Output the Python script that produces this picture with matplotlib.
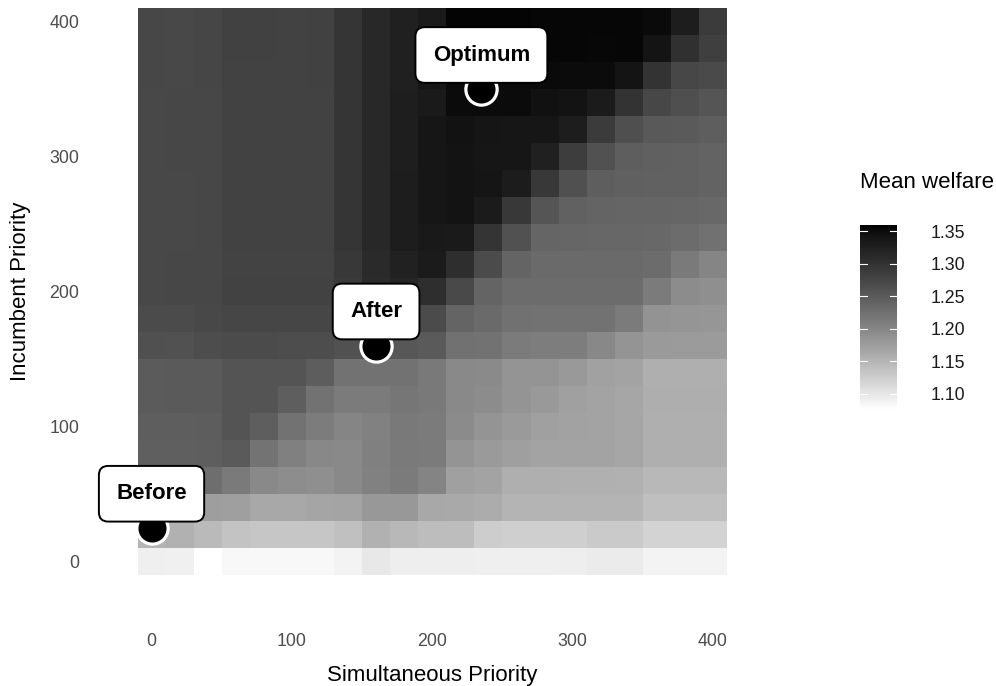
import numpy as np
import matplotlib
matplotlib.use("Agg")
import matplotlib.pyplot as plt
from matplotlib.colors import ListedColormap, Normalize

plt.rcParams['font.family'] = ['Liberation Sans', 'DejaVu Sans']

# grid of priorities
simultaneous = [0, 20, 40, 60, 80, 100, 120, 140, 160, 180, 200,
                220, 240, 260, 280, 300, 320, 340, 360, 380, 400]
incumbent = [0, 20, 40, 60, 80, 100, 120, 140, 160, 180, 200,
             220, 240, 260, 280, 300, 320, 340, 360, 380, 400]

# mean welfare, one row per incumbent priority (bottom row first)
welfare = [
    [1.091, 1.090, 1.075, 1.082, 1.082, 1.082, 1.082, 1.088, 1.098, 1.092, 1.092, 1.092, 1.091, 1.091, 1.091, 1.092, 1.096, 1.096, 1.088, 1.088, 1.088],
    [1.151, 1.155, 1.145, 1.136, 1.132, 1.132, 1.132, 1.139, 1.155, 1.147, 1.142, 1.142, 1.126, 1.123, 1.123, 1.123, 1.129, 1.129, 1.119, 1.119, 1.119],
    [1.194, 1.185, 1.175, 1.173, 1.164, 1.164, 1.167, 1.168, 1.181, 1.181, 1.163, 1.162, 1.160, 1.151, 1.151, 1.151, 1.151, 1.151, 1.140, 1.140, 1.140],
    [1.244, 1.237, 1.228, 1.214, 1.197, 1.192, 1.191, 1.197, 1.206, 1.213, 1.203, 1.172, 1.169, 1.157, 1.157, 1.156, 1.156, 1.155, 1.147, 1.147, 1.147],
    [1.245, 1.245, 1.246, 1.250, 1.221, 1.207, 1.198, 1.197, 1.207, 1.214, 1.212, 1.186, 1.179, 1.174, 1.169, 1.169, 1.169, 1.166, 1.157, 1.157, 1.157],
    [1.246, 1.246, 1.247, 1.258, 1.246, 1.224, 1.211, 1.201, 1.206, 1.215, 1.213, 1.195, 1.186, 1.179, 1.172, 1.170, 1.169, 1.166, 1.157, 1.157, 1.157],
    [1.249, 1.250, 1.251, 1.258, 1.258, 1.246, 1.223, 1.213, 1.213, 1.218, 1.215, 1.197, 1.194, 1.186, 1.180, 1.172, 1.169, 1.166, 1.158, 1.158, 1.158],
    [1.249, 1.250, 1.251, 1.258, 1.258, 1.258, 1.247, 1.224, 1.222, 1.223, 1.215, 1.197, 1.196, 1.186, 1.186, 1.180, 1.171, 1.169, 1.157, 1.157, 1.157],
    [1.263, 1.262, 1.266, 1.269, 1.269, 1.267, 1.266, 1.261, 1.257, 1.255, 1.250, 1.225, 1.223, 1.212, 1.210, 1.210, 1.198, 1.186, 1.179, 1.178, 1.178],
    [1.269, 1.269, 1.273, 1.275, 1.275, 1.275, 1.275, 1.275, 1.280, 1.280, 1.269, 1.239, 1.233, 1.225, 1.224, 1.224, 1.224, 1.212, 1.187, 1.185, 1.183],
    [1.273, 1.274, 1.274, 1.280, 1.280, 1.280, 1.280, 1.290, 1.309, 1.317, 1.306, 1.272, 1.239, 1.230, 1.230, 1.230, 1.230, 1.230, 1.212, 1.194, 1.191],
    [1.273, 1.274, 1.274, 1.279, 1.279, 1.279, 1.279, 1.293, 1.311, 1.324, 1.332, 1.306, 1.269, 1.239, 1.233, 1.233, 1.233, 1.233, 1.230, 1.214, 1.201],
    [1.273, 1.273, 1.274, 1.280, 1.280, 1.280, 1.280, 1.296, 1.314, 1.328, 1.335, 1.334, 1.298, 1.261, 1.238, 1.237, 1.236, 1.236, 1.235, 1.230, 1.225],
    [1.273, 1.273, 1.274, 1.280, 1.280, 1.280, 1.280, 1.296, 1.314, 1.329, 1.339, 1.343, 1.332, 1.293, 1.257, 1.243, 1.239, 1.238, 1.238, 1.237, 1.235],
    [1.273, 1.273, 1.274, 1.280, 1.280, 1.280, 1.280, 1.296, 1.314, 1.329, 1.338, 1.343, 1.341, 1.331, 1.293, 1.263, 1.246, 1.244, 1.243, 1.243, 1.240],
    [1.273, 1.274, 1.274, 1.280, 1.280, 1.280, 1.280, 1.296, 1.314, 1.327, 1.338, 1.343, 1.339, 1.338, 1.325, 1.286, 1.261, 1.246, 1.244, 1.242, 1.240],
    [1.273, 1.274, 1.274, 1.280, 1.280, 1.280, 1.280, 1.296, 1.314, 1.327, 1.338, 1.344, 1.341, 1.339, 1.338, 1.328, 1.289, 1.264, 1.253, 1.251, 1.246],
    [1.273, 1.274, 1.274, 1.280, 1.280, 1.280, 1.280, 1.296, 1.314, 1.327, 1.334, 1.351, 1.350, 1.350, 1.345, 1.343, 1.332, 1.299, 1.274, 1.264, 1.257],
    [1.274, 1.273, 1.275, 1.280, 1.280, 1.280, 1.281, 1.296, 1.314, 1.325, 1.338, 1.352, 1.352, 1.352, 1.352, 1.351, 1.351, 1.342, 1.299, 1.274, 1.270],
    [1.274, 1.273, 1.275, 1.281, 1.281, 1.280, 1.281, 1.296, 1.314, 1.325, 1.336, 1.354, 1.355, 1.355, 1.355, 1.355, 1.354, 1.355, 1.342, 1.303, 1.284],
    [1.274, 1.273, 1.275, 1.281, 1.281, 1.280, 1.281, 1.296, 1.314, 1.325, 1.334, 1.356, 1.356, 1.356, 1.355, 1.355, 1.355, 1.355, 1.352, 1.328, 1.289],
]

# highlighted policies
point_labels = ['Before', 'After', 'Optimum']
point_x = [0, 160, 235]
point_y = [25, 160, 350]

welfare_ticks = [1.10, 1.15, 1.20, 1.25, 1.30, 1.35]
axis_ticks = [0, 100, 200, 300, 400]


def lab_gray_cmap(n=256):
    # white -> black with lightness changing linearly (like a Lab gradient)
    L = np.linspace(100, 0, n)
    fy = (L + 16) / 116
    Y = np.where(L > 8, fy ** 3, L / 903.3)
    c = np.where(Y <= 0.0031308, 12.92 * Y, 1.055 * np.power(Y, 1 / 2.4) - 0.055)
    c = np.clip(c, 0, 1)
    return ListedColormap(np.column_stack([c, c, c, np.ones(n)]))


cmap = lab_gray_cmap()
norm = Normalize(vmin=1.075, vmax=1.36)

fig = plt.figure(figsize=(9.96, 6.86), dpi=100)
ax = fig.add_axes([137.5 / 996, 111 / 686, 589.5 / 996, 567 / 686])

mesh = ax.pcolormesh(simultaneous, incumbent, np.array(welfare), cmap=cmap, norm=norm,
                     shading='nearest', antialiased=False, linewidth=0)

ax.set_xlim(-10, 410)
ax.set_ylim(-10, 410)
ax.set_xticks(axis_ticks)
ax.set_yticks(axis_ticks)
ax.tick_params(axis='x', length=0, pad=42, labelsize=12.8, labelcolor='#4d4d4d')
ax.tick_params(axis='y', length=0, pad=42, labelsize=12.8, labelcolor='#4d4d4d')
for s in ax.spines.values():
    s.set_visible(False)

ax.set_xlabel('Simultaneous Priority', fontsize=16)
ax.set_ylabel('Incumbent Priority', fontsize=16)
ax.xaxis.set_label_coords(0.5, -0.1775)
ax.xaxis.label.set_va('center')
ax.yaxis.set_label_coords(-0.1993, 0.5)
ax.yaxis.label.set_va('center')

# points with labels on top
ax.plot(point_x, point_y, 'o', ms=22.5, mfc='black', mec='white', mew=2.3,
        clip_on=False, zorder=4)
for lab, px, py in zip(point_labels, point_x, point_y):
    ax.annotate(lab, xy=(px, py), xytext=(0, 34), textcoords='offset pixels',
                ha='center', va='center', fontsize=16, fontweight='bold',
                bbox=dict(boxstyle='round,pad=0.78,rounding_size=0.42',
                          fc='white', ec='black', lw=1.4),
                zorder=5, annotation_clip=False)

# colour bar legend
cax = fig.add_axes([860 / 996, 276 / 686, 37 / 996, 185 / 686])
cb = fig.colorbar(mesh, cax=cax, ticks=welfare_ticks)
cb.outline.set_visible(False)
cb.ax.tick_params(length=0, pad=24, labelsize=12.8, labelcolor='#1a1a1a')
cb.ax.set_yticklabels([f'{t:.2f}' for t in welfare_ticks])
tr = cax.get_yaxis_transform()
for t in welfare_ticks:
    cax.plot([0, 0.2], [t, t], color='white', lw=0.8, transform=tr)
    cax.plot([0.8, 1], [t, t], color='white', lw=0.8, transform=tr)

fig.text(860 / 996, 1 - 182 / 686, 'Mean welfare', fontsize=16, ha='left', va='center')

fig.savefig('out.png', dpi=100)
